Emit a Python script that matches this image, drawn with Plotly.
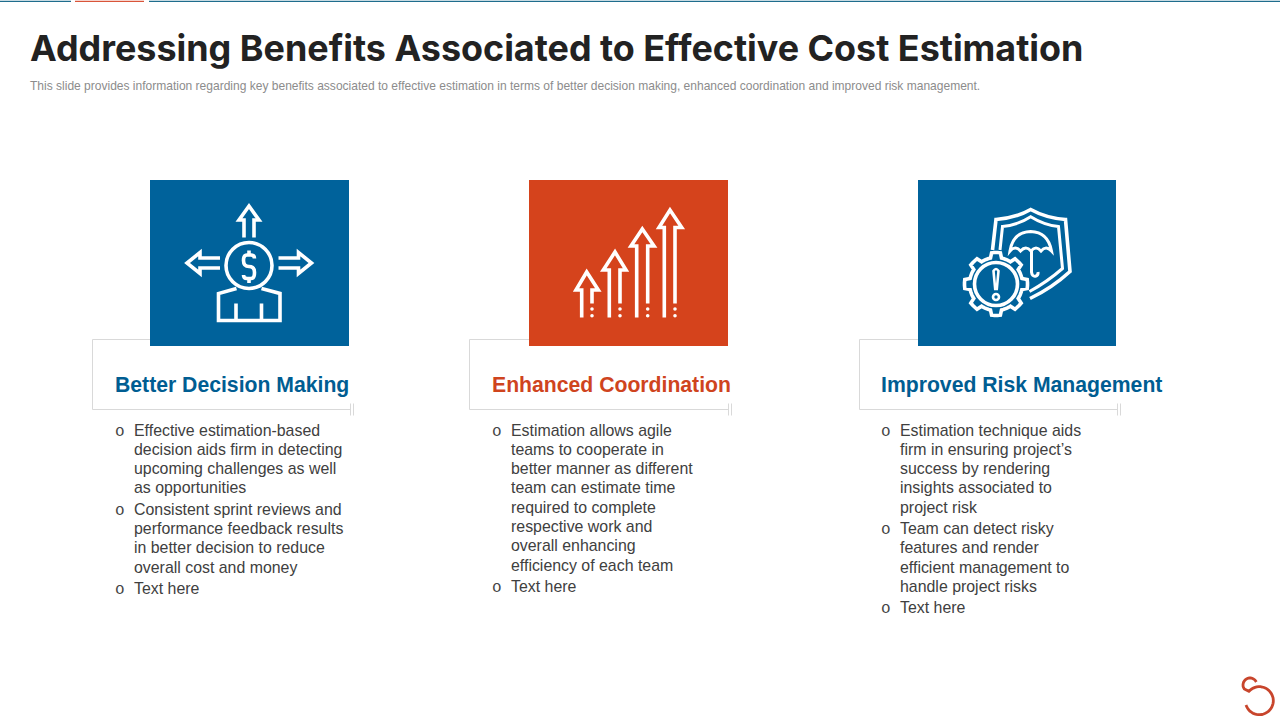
import math

import plotly.graph_objects as go

TITLE = "Addressing Benefits Associated to Effective Cost Estimation"
SUBTITLE = (
    "This slide provides information regarding key benefits associated to effective estimation in terms of "
    "better decision making, enhanced coordination and improved risk management."
)
HEADINGS = ["Better Decision Making", "Enhanced Coordination", "Improved Risk Management"]
COLUMN_1 = [
    ["Effective estimation-based", "decision aids firm in detecting", "upcoming challenges as well", "as opportunities"],
    ["Consistent sprint reviews and", "performance feedback results", "in better decision to reduce", "overall cost and money"],
    ["Text here"],
]
COLUMN_2 = [
    ["Estimation allows agile", "teams to cooperate in", "better manner as different", "team can estimate time",
     "required to complete", "respective work and", "overall enhancing", "efficiency of each team"],
    ["Text here"],
]
COLUMN_3 = [
    ["Estimation technique aids", "firm in ensuring project\u2019s", "success by rendering",
     "insights associated to", "project risk"],
    ["Team can detect risky", "features and render", "efficient management to", "handle project risks"],
    ["Text here"],
]
COLUMNS = [COLUMN_1, COLUMN_2, COLUMN_3]

BLUE = "#00629b"
ORANGE = "#d5431c"
HEAD_BLUE = "#005d92"
HEAD_ORANGE = "#cf441e"
GREY_LINE = "#d9d9d9"
BODY = "Liberation Sans"
ICON_W = 3.6

shapes = []
notes = []


def rect(x0, y0, x1, y1, color):
    shapes.append(dict(type="rect", x0=x0, y0=y0, x1=x1, y1=y1, fillcolor=color, line_width=0))


def stroke(path, color="white", width=ICON_W):
    shapes.append(dict(type="path", path=path, line=dict(color=color, width=width)))


def ring(cx, cy, r, color="white", width=ICON_W, fill="rgba(0,0,0,0)"):
    shapes.append(dict(type="circle", x0=cx - r, y0=cy - r, x1=cx + r, y1=cy + r,
                       line=dict(color=color, width=width), fillcolor=fill))


def text(x, y, s, size, color, font=BODY):
    notes.append(dict(x=x, y=y, text=s, showarrow=False, xanchor="left", yanchor="middle",
                      xref="x", yref="y", borderpad=0, borderwidth=0,
                      font=dict(family=font, size=size, color=color)))


def arc(cx, cy, r, a0, a1, steps=40):
    pts = []
    for i in range(steps + 1):
        a = math.radians(a0 + (a1 - a0) * i / steps)
        pts.append((cx + r * math.cos(a), cy + r * math.sin(a)))
    return pts


def poly(pts):
    return "M" + " L".join(f"{x:.1f},{y:.1f}" for x, y in pts)


def up_arrow(tip, wing_l, wing_r, wing_y, shaft_l, shaft_r):
    # outline of a thin arrow, the foot of the right shaft ends in two dots
    stroke(f"M{shaft_l},317.5 V{wing_y} H{wing_l} L{tip[0]},{tip[1]} L{wing_r},{wing_y} H{shaft_r} V303.5")
    ring(shaft_r, 309, 1, width=1.6, fill="white")
    ring(shaft_r, 315.7, 1, width=1.6, fill="white")


# top rule
stroke("M0,1.4 H71", "#1f6d8d", 1.2)
stroke("M75,1.4 H144", "#d9553a", 1.2)
stroke("M149,1.4 H1280", "#1f6d8d", 1.2)

# heading frames, drawn under the icon squares
for left, right in [(92.5, 351), (469.5, 729), (859.5, 1118)]:
    stroke(f"M{left + 70},339.5 H{left} V409.5 H{right}", GREY_LINE, 1)
    stroke(f"M{right - 0.5},403.5 V415.5", GREY_LINE, 1)
    stroke(f"M{right + 2.5},403.5 V415.5", GREY_LINE, 1)

rect(150, 180, 349, 346, BLUE)
rect(529, 180, 728, 346, ORANGE)
rect(918, 180, 1116, 346, BLUE)

# icon 1: person with money head and three arrows
ring(249, 265.5, 23)
stroke("M244,237.5 V220 H239 L249,206 L259,220 H254 V237.5")
stroke("M220,258 H200 V252.5 L187,263 L200,273.5 V268 H220")
stroke("M278.5,258 H298.5 V252.5 L311.5,263 L298.5,273.5 V268 H278.5")
stroke("M236.5,288.5 L218.5,293.5 V320.5 H280 V293.5 L261.5,288.5 M236,303.5 V320.5 M261.5,303.5 V320.5")
stroke("M254.5,258.5 Q254.5,255 251,255 H247 Q243.5,255 243.5,260.5 Q243.5,266.5 249,266.5 "
       "Q254.5,266.5 254.5,272.5 Q254.5,278.5 251,278.5 H247 Q243.5,278.5 243.5,275 "
       "M249,250.5 V255 M249,278.5 V283")

# icon 2: rising arrows
up_arrow((586.7, 272), 576, 598.3, 290, 581.7, 592)
up_arrow((615, 252), 603.3, 626, 270, 609.3, 620)
up_arrow((642.3, 229), 631, 654, 246, 636.7, 647.7)
up_arrow((670, 210), 659, 681.7, 227.5, 664.3, 675)

# icon 3: shield, umbrella and gear
stroke("M992.5,250 L996,219.5 Q1016,218 1030.7,209.5 Q1046,218 1065.5,219.5 L1070,271.5 Q1052,288 1030,298.5")
stroke("M1000,250 L1002.5,226.5 Q1018,225 1030.7,216.7 Q1044,225 1058.5,226.5 L1062.5,268.5 Q1047,282 1029.5,291.5", width=3)
stroke("M1010,251 Q1013,232 1030.7,231.5 Q1048,232 1051.5,251 Q1046,245 1041,251 Q1036,245 1031,251 "
       "Q1026,245 1020.5,251 Q1015,245 1010,251 Z", width=3)
stroke("M1031.5,251 V272 Q1032,277 1036,276 Q1038.5,275 1038,272", width=3)

gear = []
for k in range(8):
    c = 22.5 + k * 45 + 22.5
    gear += arc(996, 284, 26.5, c + 12, c + 33, 5)
    gear += arc(996, 284, 31.5, c + 37, c + 53, 3)
stroke(poly(gear) + " Z")
ring(996, 284, 21.5)
stroke("M993.5,271 Q996,267 998.5,271 L996.8,289 H995.2 Z", width=2.6)
ring(996, 297, 3, width=2.6)

# logo, bottom right
logo = arc(1250, 685, 7, -25, -215, 16) + arc(1259.3, 700.7, 14, -138, 162)
stroke(poly(logo), "#c8452c", 2.8)

# text
text(30, 48, f"<b>{TITLE}</b>", 35.9, "#222222", "Inter")
text(30, 86, SUBTITLE, 12.03, "#8c8c8c")

head_colors = [HEAD_BLUE, HEAD_ORANGE, HEAD_BLUE]
head_x = [115, 492, 881]
for j, col in enumerate(COLUMNS):
    text(head_x[j], 384.6, f"<b>{HEADINGS[j]}</b>", 21.2, head_colors[j])
    y = 430.0
    for item in col:
        text(head_x[j], y + 1.5, "o", 16, "#444444", "Liberation Mono")
        for line in item:
            text(head_x[j] + 19, y, line, 15.9, "#404040")
            y += 19.3
        y += 2.0

fig = go.Figure()
fig.update_layout(
    width=1280, height=720,
    margin=dict(l=0, r=0, t=0, b=0),
    paper_bgcolor="white", plot_bgcolor="white",
    xaxis=dict(range=[0, 1280], visible=False, fixedrange=True),
    yaxis=dict(range=[720, 0], visible=False, fixedrange=True),
    shapes=shapes, annotations=notes, showlegend=False,
)
fig.write_html("out.html", post_script="document.body.style.margin='0';", config=dict(displayModeBar=False))
